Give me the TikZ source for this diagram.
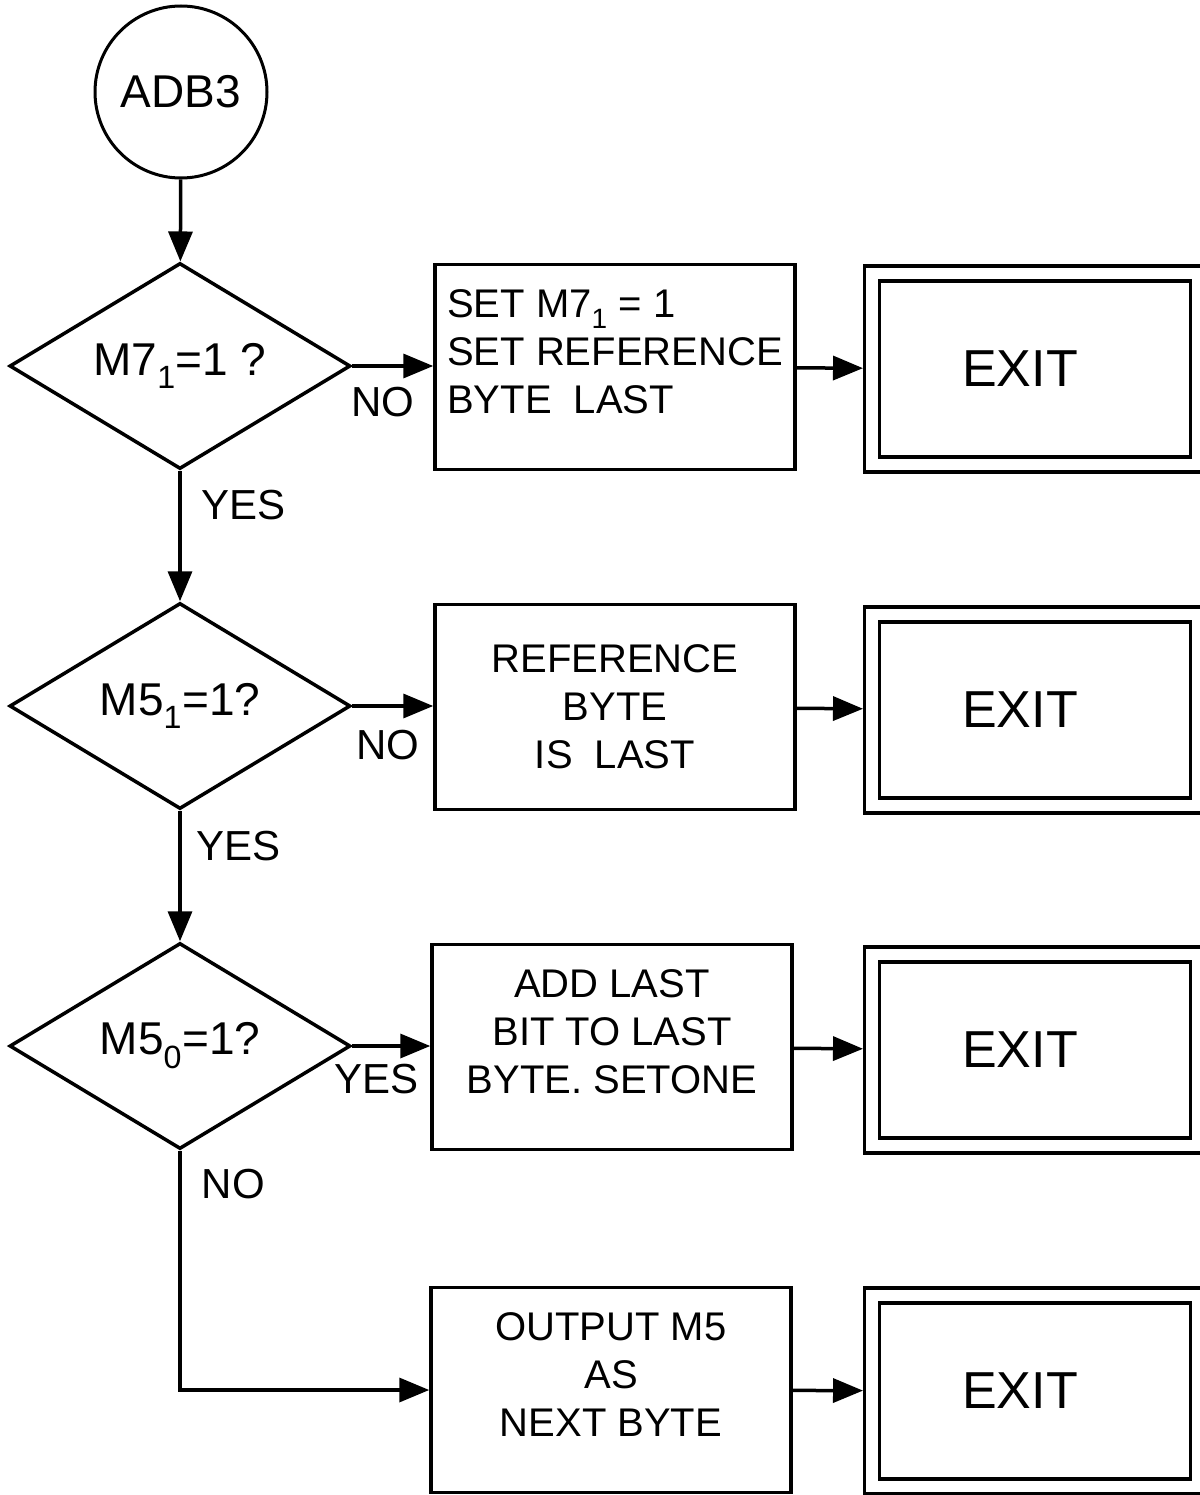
\documentclass[tikz,border=0pt]{standalone}
\usepackage{fontspec}
\setmainfont{Liberation Sans}
\usetikzlibrary{arrows.meta,positioning,shapes.geometric}
\newcommand{\liftup}{\\[-18pt]\mbox{}}

\begin{document}
\begin{tikzpicture}[
		x=1pt, y=-1pt, line width=3.5pt,
		conn/.style={circle, draw, line width=3pt, minimum size=172pt, inner sep=0pt,
				font=\fontsize{46}{50}\selectfont},
		test/.style={diamond, draw, aspect=1.65, minimum width=341pt, minimum height=206pt,
				inner sep=0pt, font=\fontsize{46}{50}\selectfont},
		box/.style={draw, align=center, minimum width=360pt, minimum height=205pt,
				inner sep=0pt, font=\fontsize{40}{48}\selectfont},
		exitbox/.style={draw, double, double distance=11.5pt, minimum width=326pt,
				minimum height=191pt, outer sep=9pt, font=\fontsize{52}{52}\selectfont},
		lbl/.style={font=\fontsize{42}{42}\selectfont, inner sep=0pt, anchor=north west},
		arr/.style={-{Triangle[length=30pt,width=24pt]}}
		]
		\useasboundingbox (0,0) rectangle (1199,1495);
		\node[conn] (start) at (181,92) {ADB3};
		\node[test] (t7) at (180,366) {M7\textsubscript{1}=1 ?};
		\node[test] (t5) at (180,706) {M5\textsubscript{1}=1?};
		\node[test] (t0) at (180,1046) {M5\textsubscript{0}=1?};
		\node[box, align=left] (set7) at (615,367) {SET M7\textsubscript{1} = 1\\SET REFERENCE\\BYTE~~LAST\liftup};
		\node[box] (reflast) at (615,707) {REFERENCE\\BYTE\\IS~~LAST};
		\node[box] (addbit) at (612,1047) {ADD LAST\\BIT TO LAST\\BYTE. SETONE\liftup};
		\node[box] (outm5) at (611,1390) {OUTPUT M5\\AS\\NEXT BYTE\liftup};
		\foreach \r/\y in {1/369, 2/710, 3/1050, 4/1391}
		\node[exitbox] (exit\r) at (1035,\y) {EXIT\kern30pt};
		\draw[arr] (start) -- (t7);
		\draw[arr] (t7.south) -- node[lbl, pos=0, xshift=20pt, yshift=-18pt] {YES} (t5.north);
		\draw[arr] (t5.south) -- node[lbl, pos=0, xshift=15pt, yshift=-19pt] {YES} (t0.north);
		\draw[arr] (t7.east) -- node[lbl, pos=0, xshift=-3pt, yshift=-19pt] {NO} (set7.west |- t7.east);
		\draw[arr] (t5.east) -- node[lbl, pos=0, xshift=2pt, yshift=-22pt] {NO} (reflast.west |- t5.east);
		\draw[arr] (t0.east) -- node[lbl, pos=0, xshift=-20pt, yshift=-16pt] {YES} (addbit.west |- t0.east);
		\draw[arr] (t0.south) |- node[lbl, pos=0, xshift=20pt, yshift=-17pt] {NO} (outm5.west);
		\draw[arr] (set7) -- (exit1);
		\draw[arr] (reflast) -- (exit2);
		\draw[arr] (addbit) -- (exit3);
		\draw[arr] (outm5) -- (exit4);
	\end{tikzpicture}
\end{document}
